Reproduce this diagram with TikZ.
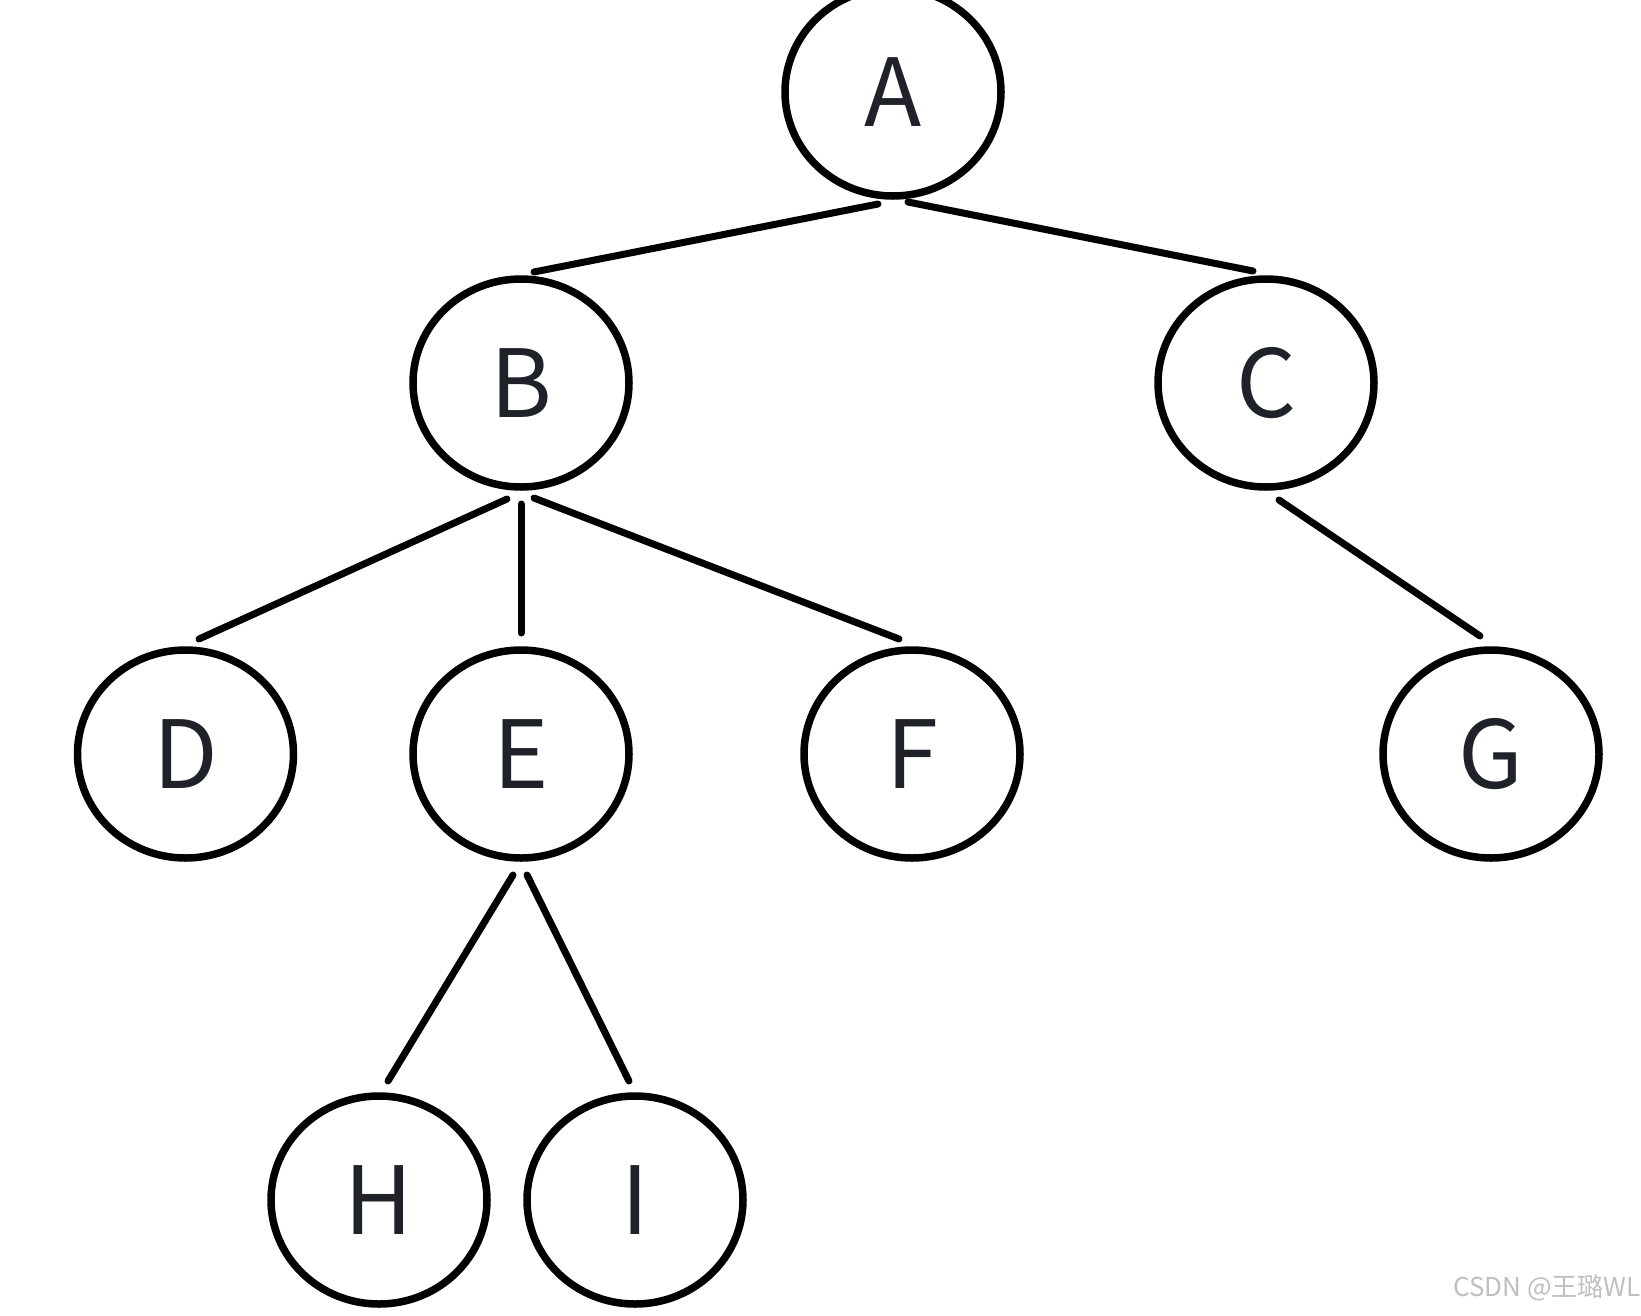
\documentclass[tikz,border=0pt]{standalone}
\usepackage{fontspec}
\setmainfont{Noto Sans}
\newfontfamily\cjk{Noto Sans CJK SC}
\usetikzlibrary{shapes.geometric,calc}
\definecolor{inkdark}{HTML}{1F2329}
\newcommand{\lbl}[1]{\raisebox{-5pt}{#1}}
\begin{document}
\begin{tikzpicture}[x=1pt,y=-1pt,
  tnode/.style={draw=black,ellipse,line width=7.5pt,minimum width=216pt,minimum height=208pt,inner sep=0pt,outer sep=0pt,
    font=\cjk\fontsize{94}{94}\selectfont,text=inkdark},
  tedge/.style={line width=7pt,line cap=round}]
\useasboundingbox (0,0) rectangle (1641,1315);
\node[tnode] (A) at (893,92) {\lbl{A}};
\node[tnode] (B) at (521,383) {\lbl{B}};
\node[tnode] (C) at (1266,383) {\lbl{C}};
\node[tnode] (D) at (185.5,754) {\lbl{D}};
\node[tnode] (E) at (521,754) {\lbl{E}};
\node[tnode] (F) at (912,754) {\lbl{F}};
\node[tnode] (G) at (1491,754) {\lbl{G}};
\node[tnode] (H) at (379,1200) {\lbl{H}};
\node[tnode] (I) at (635,1200) {\lbl{I}};
\draw[tedge] ([shift={(-15,8)}]A.south) -- ([shift={(13,-7)}]B.north);
\draw[tedge] ([shift={(15,6)}]A.south) -- ([shift={(-13,-8)}]C.north);
\draw[tedge] ([shift={(-14,12)}]B.south) -- ([shift={(13.5,-11)}]D.north);
\draw[tedge] ([shift={(0,17)}]B.south) -- ([shift={(0,-17)}]E.north);
\draw[tedge] ([shift={(13,11)}]B.south) -- ([shift={(-13,-11)}]F.north);
\draw[tedge] ([shift={(13,13)}]C.south) -- ([shift={(-11,-14)}]G.north);
\draw[tedge] ([shift={(-8,17)}]E.south) -- ([shift={(9,-15)}]H.north);
\draw[tedge] ([shift={(6,17)}]E.south) -- ([shift={(-6,-15)}]I.north);
\node[anchor=east,inner sep=0pt,text=black!25,font=\cjk\fontsize{26}{26}\selectfont] (wm) at (1641,1288) {CSDN @王璐WL};
\end{tikzpicture}
\end{document}
